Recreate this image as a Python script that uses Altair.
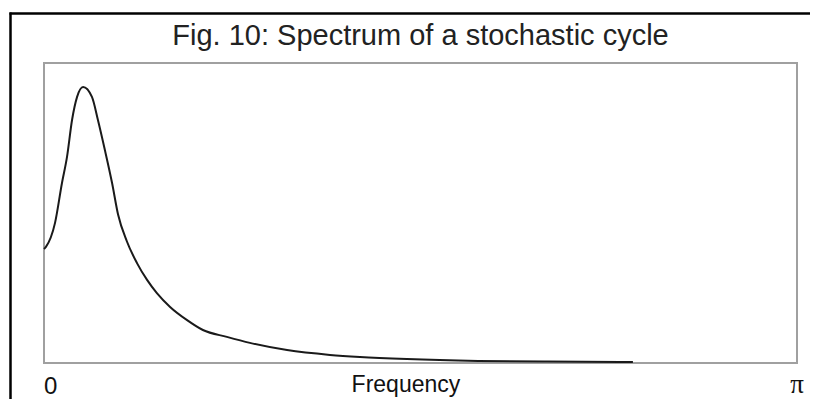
import math
import altair as alt
import pandas as pd

# Curve (frequency in radians, spectrum in relative units)
freq = [0.0, 0.008, 0.046, 0.075, 0.096, 0.117, 0.138, 0.163, 0.200, 0.225,
        0.254, 0.284, 0.309, 0.346, 0.388, 0.430, 0.471, 0.526, 0.597, 0.663,
        0.763, 0.859, 1.014, 1.193, 1.318, 1.514, 1.811, 2.100, 2.457]
spec = [0.380, 0.387, 0.467, 0.600, 0.687, 0.810, 0.887, 0.920, 0.887, 0.810,
        0.710, 0.600, 0.495, 0.405, 0.333, 0.277, 0.233, 0.187, 0.143, 0.110,
        0.087, 0.067, 0.043, 0.027, 0.020, 0.013, 0.007, 0.005, 0.003]

title_text = "Fig. 10: Spectrum of a stochastic cycle"
end_labels = ["0", "π"]
end_pos = [0.0, math.pi]
axis_title = "Frequency"
axis_title_pos = 1.51

df = pd.DataFrame({"f": freq, "s": spec})
xs = alt.Scale(domain=[0, math.pi], nice=False)
ys = alt.Scale(domain=[0, 1], nice=False)

line = alt.Chart(df).mark_line(color="#1a1a1a", strokeWidth=2, interpolate="monotone").encode(
    x=alt.X("f:Q", scale=xs, axis=None),
    y=alt.Y("s:Q", scale=ys, axis=None),
)

lab0 = alt.Chart(pd.DataFrame({"f": end_pos[:1], "t": end_labels[:1]})).mark_text(
    align="left", baseline="alphabetic", fontSize=24, font="Liberation Sans", color="#111"
).encode(x=alt.X("f:Q", scale=xs, axis=None), y=alt.value(331), text="t:N")

labpi = alt.Chart(pd.DataFrame({"f": end_pos[1:], "t": end_labels[1:]})).mark_text(
    align="center", baseline="alphabetic", fontSize=27, font="Liberation Serif", color="#111"
).encode(x=alt.X("f:Q", scale=xs, axis=None), y=alt.value(330), text="t:N")

labf = alt.Chart(pd.DataFrame({"f": [axis_title_pos], "t": [axis_title]})).mark_text(
    align="center", baseline="alphabetic", fontSize=23, font="Liberation Sans", color="#111"
).encode(x=alt.X("f:Q", scale=xs, axis=None), y=alt.value(329), text="t:N")

title = alt.Chart(pd.DataFrame({"t": [title_text]})).mark_text(
    align="center", baseline="alphabetic", fontSize=29, font="Liberation Sans", color="#222"
).encode(x=alt.value(376.5), y=alt.value(-18), text="t:N")

frame_left = alt.Chart(pd.DataFrame({"a": [0]})).mark_rule(color="black", strokeWidth=2.5).encode(
    x=alt.value(-33.5), y=alt.value(-50.5), y2=alt.value(400)
)
frame_top = alt.Chart(pd.DataFrame({"a": [0]})).mark_rule(color="black", strokeWidth=2.5).encode(
    x=alt.value(-34.5), x2=alt.value(800), y=alt.value(-49.5)
)

chart = alt.layer(frame_left, frame_top, title, line, lab0, labpi, labf).properties(
    width=753, height=300,
    autosize=alt.AutoSizeParams(type="none"),
    padding={"left": 36, "top": 55, "right": 13, "bottom": 36},
    background="white",
).configure_view(stroke="#a0a0a0", strokeWidth=2)

chart.save("out.html", embed_options={"renderer": "svg", "actions": False})
